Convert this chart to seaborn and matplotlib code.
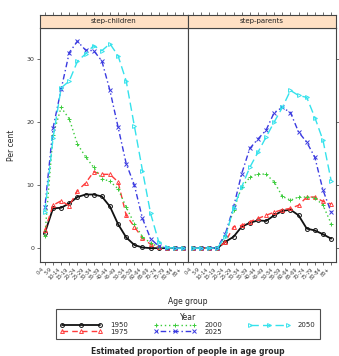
import numpy as np
import pandas as pd
import matplotlib
matplotlib.use("Agg")
import matplotlib.pyplot as plt
import seaborn as sns

# ---- data ----
age_groups = ["0-4", "5-9", "10-14", "15-19", "20-24", "25-29", "30-34", "35-39", "40-44",
              "45-49", "50-54", "55-59", "60-64", "65-69", "70-74", "75-79", "80-84", "85+"]
years = ["1950", "1975", "2000", "2025", "2050"]
panels = ["step-children", "step-parents"]

children_1950 = [2.4, 6.3, 6.4, 7.1, 8.1, 8.5, 8.5, 8.2, 6.6, 3.8, 1.7, 0.5, 0.1, 0.0, 0.0, 0.0, 0.0, 0.0]
children_1975 = [2.8, 6.8, 7.5, 6.7, 9.1, 10.3, 12.1, 11.7, 11.7, 10.5, 5.2, 3.4, 1.6, 0.6, 0.1, 0.0, 0.0, 0.0]
children_2000 = [2.0, 17.9, 22.3, 20.5, 16.5, 14.5, 12.8, 11.0, 10.6, 9.4, 6.5, 3.9, 1.8, 0.8, 0.2, 0.0, 0.0, 0.0]
children_2025 = [6.5, 19.0, 25.2, 31.0, 32.8, 31.4, 31.3, 29.7, 25.0, 19.2, 13.4, 10.0, 4.7, 1.5, 0.3, 0.0, 0.0, 0.0]
children_2050 = [5.8, 17.4, 25.4, 26.5, 29.6, 30.8, 32.1, 31.3, 32.4, 30.5, 26.5, 19.4, 12.3, 5.5, 1.0, 0.1, 0.0, 0.0]

parents_1950 = [0.0, 0.0, 0.0, 0.0, 1.0, 1.8, 3.4, 4.0, 4.4, 4.3, 5.2, 5.9, 6.1, 5.2, 3.1, 2.8, 2.2, 1.5]
parents_1975 = [0.0, 0.0, 0.0, 0.0, 1.0, 3.4, 3.6, 4.2, 4.7, 5.2, 5.7, 6.1, 6.3, 6.8, 8.1, 8.1, 7.4, 7.0]
parents_2000 = [0.0, 0.0, 0.0, 0.0, 2.0, 6.0, 9.7, 11.2, 11.8, 11.7, 10.5, 8.2, 7.6, 8.1, 8.1, 8.0, 6.8, 3.9]
parents_2025 = [0.0, 0.0, 0.0, 0.0, 2.3, 6.5, 11.8, 15.8, 17.3, 18.7, 21.5, 22.3, 21.5, 18.4, 16.8, 14.4, 9.2, 5.7]
parents_2050 = [0.0, 0.0, 0.0, 0.0, 1.8, 6.3, 9.7, 12.8, 15.2, 17.6, 20.0, 22.3, 25.0, 24.2, 23.9, 20.7, 17.1, 10.7]

children = [children_1950, children_1975, children_2000, children_2025, children_2050]
parents = [parents_1950, parents_1975, parents_2000, parents_2025, parents_2050]

rows = []
for panel, series in zip(panels, [children, parents]):
    for yr, vals in zip(years, series):
        for i, v in enumerate(vals):
            rows.append({"panel": panel, "Year": yr, "pos": i, "pct": v})
df = pd.DataFrame(rows)

# styles per year
colors = {"1950": "#111111", "1975": "#ff3b3b", "2000": "#3ccc3c", "2025": "#3a3ae0", "2050": "#35e2ec"}
markers = {"1950": "o", "1975": "^", "2000": "+", "2025": "x", "2050": ">"}
dashes = {"1975": (4, 3), "2000": (1, 2), "2025": (1, 2, 4, 2), "2050": (6, 3)}

sns.set_style("white")
plt.rcParams["font.family"] = ["DejaVu Sans"]

W, H = 339, 356
fig = plt.figure(figsize=(W / 100, H / 100), dpi=100)

def fx(px):
    return px / W

def fy(py):
    return 1 - py / H

pan_left = [40, 188]
pan_w = 148
pan_top, pan_bot = 28, 262
strip_top = 15

axes = []
for k, panel in enumerate(panels):
    ax = fig.add_axes([fx(pan_left[k]), fy(pan_bot), fx(pan_w), (pan_bot - pan_top) / H])
    sub = df[df["panel"] == panel]
    for yr in years:
        d = sub[sub["Year"] == yr]
        kw = dict(color=colors[yr], marker=markers[yr], markersize=2.8,
                  markeredgecolor=colors[yr], markerfacecolor="none", markeredgewidth=0.7)
        if yr == "1950":
            sns.lineplot(data=d, x="pos", y="pct", ax=ax, lw=1.3, label=yr, legend=False, **kw)
        else:
            sns.lineplot(data=d, x="pos", y="pct", ax=ax, lw=1.0, dashes=dashes[yr],
                         label=yr, legend=False, **kw)
    ax.set_xlim(-0.6, 17.6)
    ax.set_ylim(-2.2, 34.9)
    ax.set_xlabel("")
    ax.set_ylabel("")
    ax.set_xticks(np.arange(len(age_groups)))
    ax.set_xticklabels(age_groups, rotation=45, ha="right", fontsize=3.6, color="#555555")
    ax.set_yticks([0, 10, 20, 30])
    if k == 0:
        ax.tick_params(axis="y", left=True, right=False, labelleft=True, labelsize=4.5,
                       length=2.5, width=0.5, colors="#333333", pad=1.5)
    else:
        ax.tick_params(axis="y", left=False, right=True, labelleft=False, labelright=False,
                       length=2.5, width=0.5, colors="#333333")
    ax.tick_params(axis="x", bottom=True, length=2.5, width=0.5, colors="#333333", pad=1)
    for s in ax.spines.values():
        s.set_color("#444444")
        s.set_linewidth(0.8)
    ax.grid(False)
    axes.append(ax)

    # strip on top
    st = fig.add_axes([fx(pan_left[k]), fy(pan_top), fx(pan_w), (pan_top - strip_top) / H])
    st.set_facecolor("#ffe0c4")
    st.set_xlim(-0.6, 17.6)
    st.set_ylim(0, 1)
    st.set_xticks(np.arange(len(age_groups)))
    st.set_yticks([])
    st.tick_params(axis="x", bottom=False, top=True, labelbottom=False, labeltop=False,
                   length=2.5, width=0.5, colors="#333333")
    for s in st.spines.values():
        s.set_color("#444444")
        s.set_linewidth(0.8)
    st.text(8.5, 0.5, panel, ha="center", va="center", fontsize=5, color="#222222")

fig.text(fx(12), fy(145), "Per cent", rotation=90, ha="center", va="center", fontsize=5.5)
fig.text(fx(188), fy(302), "Age group", ha="center", va="center", fontsize=5.5)
fig.text(fx(188), fy(351), "Estimated proportion of people in age group",
         ha="center", va="center", fontsize=5.5, fontweight="bold")

handles = axes[0].get_lines()[:len(years)]
leg = fig.legend(handles, years, loc="lower left",
                 bbox_to_anchor=(fx(53), fy(342), fx(270), (342 - 308) / H),
                 mode="expand", ncol=3, numpoints=3, title="Year", fontsize=5,
                 title_fontsize=5.5, frameon=True, fancybox=False, handlelength=6,
                 labelspacing=0.05, borderpad=0.55, handletextpad=1.2, columnspacing=2.0)
leg.get_frame().set_edgecolor("#222222")
leg.get_frame().set_linewidth(0.8)

fig.savefig("out.png", dpi=100)
